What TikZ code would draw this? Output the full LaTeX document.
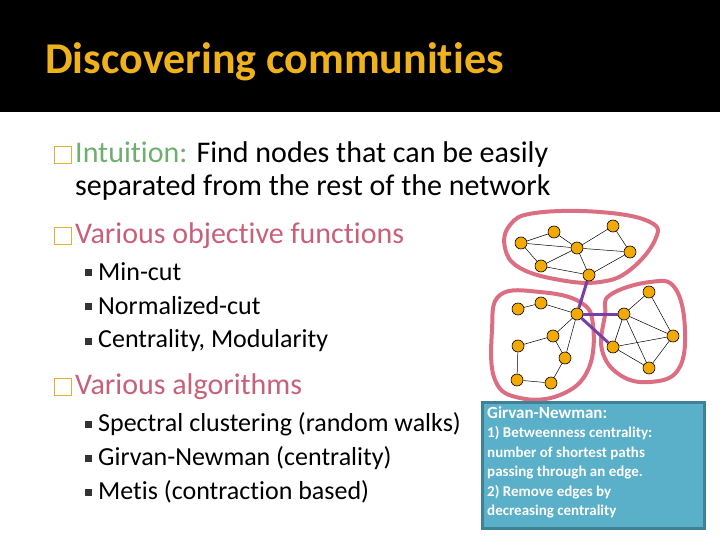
\documentclass[tikz,border=0pt]{standalone}
\usepackage{fontspec}
\setmainfont{Carlito}[RawFeature=-liga]
\definecolor{ttl}{HTML}{F0B21A}
\definecolor{grn}{HTML}{6FAE6F}
\definecolor{pnk}{HTML}{C8607A}
\definecolor{blob}{HTML}{DC6E82}
\definecolor{nd}{HTML}{F2A900}
\definecolor{pur}{HTML}{7A3EA8}
\definecolor{bxf}{HTML}{5AAFC9}
\definecolor{bxd}{HTML}{3F8197}
\definecolor{bul}{HTML}{E0B030}
\begin{document}
\begin{tikzpicture}[x=1pt,y=-1pt,
  vx/.style={circle,draw=black,line width=0.6pt,fill=nd,inner sep=0pt,minimum size=12pt},
  ed/.style={black,line width=0.5pt},
  cut/.style={pur,line width=3pt},
  bl/.style={blob,line width=4pt},
  txt/.style={anchor=west,inner sep=0pt,font=\fontsize{30}{36}\selectfont},
  sub/.style={anchor=west,inner sep=0pt,font=\fontsize{26}{31}\selectfont},
  bsq/.style={draw=bul,line width=1.4pt,minimum size=17pt,inner sep=0pt},
  ssq/.style={fill=black!80,minimum size=7pt,inner sep=0pt}]
\useasboundingbox (0,0) rectangle (720,540);
\fill[black] (0,0) rectangle (720,112);
\node[anchor=west,inner sep=0pt,text=ttl,font=\fontsize{44}{50}\selectfont\bfseries] (title) at (45,62) {Discovering communities};
% main bullets
\node[bsq] (b1) at (63,155) {};
\node[txt] (t1) at (75,155) {\textcolor{grn}{Intuition:} Find nodes that can be easily};
\node[txt] (t1b) at (75,188) {separated from the rest of the network};
\node[bsq] (b2) at (63,236) {};
\node[txt,text=pnk] (t2) at (75,236) {Various objective functions};
\node[ssq] (s1) at (88,272) {}; \node[sub] (u1) at (98,272) {Min-cut};
\node[ssq] (s2) at (88,306) {}; \node[sub] (u2) at (98,306) {Normalized-cut};
\node[ssq] (s3) at (88,341) {}; \node[sub] (u3) at (98,341) {Centrality, Modularity};
\node[bsq] (b3) at (63,387) {};
\node[txt,text=pnk] (t3) at (75,387) {Various algorithms};
\node[ssq] (s4) at (88,424) {}; \node[sub] (u4) at (98,424) {Spectral clustering (random walks)};
\node[ssq] (s5) at (88,458) {}; \node[sub] (u5) at (98,458) {Girvan-Newman (centrality)};
\node[ssq] (s6) at (88,492) {}; \node[sub] (u6) at (98,492) {Metis (contraction based)};
% blobs
\draw[bl] plot[smooth cycle,tension=0.7] coordinates {(510,225) (535,213) (600,212) (650,222) (655,240) (630,270) (600,282) (560,280) (520,268) (505,248)};
\draw[bl] plot[smooth cycle,tension=0.7] coordinates {(500,295) (540,292) (580,302) (593,325) (588,370) (560,395) (520,398) (495,380) (492,330)};
\draw[bl] plot[smooth cycle,tension=0.7] coordinates {(610,295) (650,282) (675,288) (685,330) (678,370) (650,382) (620,375) (602,350) (605,315)};
% nodes
\node[vx] (A) at (521,243) {}; \node[vx] (B) at (554,232) {}; \node[vx] (C) at (577,248) {};
\node[vx] (D) at (613,226) {}; \node[vx] (E) at (630,252) {}; \node[vx] (F) at (541,266) {};
\node[vx] (G) at (589,275) {};
\node[vx] (H) at (518,309) {}; \node[vx] (I) at (541,303) {}; \node[vx] (J) at (577,314) {};
\node[vx] (K) at (553,336) {}; \node[vx] (L) at (518,346) {}; \node[vx] (M) at (565,358) {};
\node[vx] (N) at (517,380) {}; \node[vx] (O) at (551,383) {};
\node[vx] (P) at (649,292) {}; \node[vx] (Q) at (624,314) {}; \node[vx] (R) at (673,336) {};
\node[vx] (S) at (613,347) {}; \node[vx] (T) at (649,368) {};
\draw[cut] (G) -- (J); \draw[cut] (J) -- (Q); \draw[cut] (J) -- (S);
\foreach \a/\b in {A/B,A/C,A/F,F/C,F/G,C/G,C/D,C/E,D/E,E/G,B/C,H/I,I/J,J/K,J/M,K/L,K/M,L/N,N/O,O/M,P/Q,P/R,Q/R,Q/S,Q/T,S/R,S/T,T/R}
  \draw[ed] (\a) -- (\b);
% box
\node[draw=bxd,line width=3pt,fill=bxf,minimum width=222pt,minimum height=126pt,anchor=north west,inner sep=0pt] (box) at (481,401) {};
\node[anchor=north west,inner sep=0pt,text=white,align=left,font=\fontsize{15}{19.5}\selectfont\bfseries] (boxt) at (487,406) {{\fontsize{17}{19.5}\selectfont Girvan-Newman:}\\1) Betweenness centrality:\\number of shortest paths\\passing through an edge.\\2) Remove edges by\\decreasing centrality};
\end{tikzpicture}
\end{document}
